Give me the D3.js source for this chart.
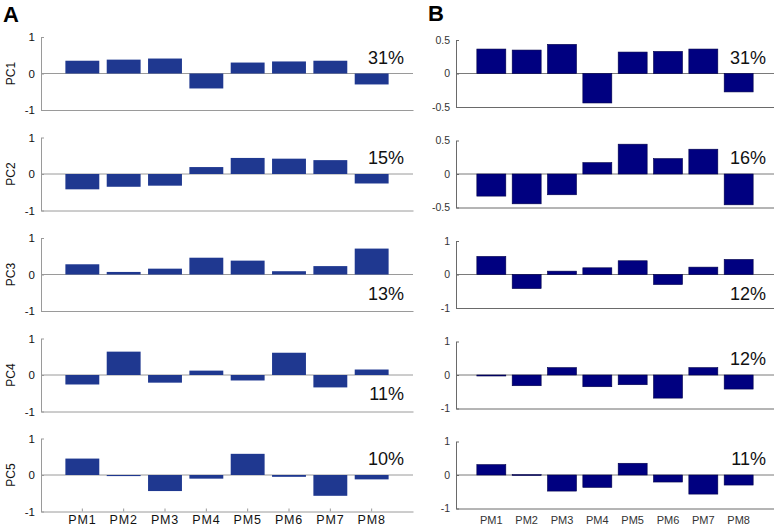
<!DOCTYPE html>
<html><head><meta charset="utf-8">
<script src="https://cdn.jsdelivr.net/npm/d3@7"></script>
<style>html,body{margin:0;padding:0;background:#fff;} svg{display:block;font-family:"Liberation Sans",Arial,Helvetica,sans-serif;}</style>
</head><body><svg id="chart" width="774" height="529"></svg>
<script>
// ---------- data ----------
const categories = ["PM1","PM2","PM3","PM4","PM5","PM6","PM7","PM8"];
const components = ["PC1","PC2","PC3","PC4","PC5"];

const pc1A = [0.35, 0.38, 0.41, -0.41, 0.30, 0.33, 0.35, -0.30];
const pc2A = [-0.42, -0.35, -0.32, 0.19, 0.44, 0.42, 0.38, -0.26];
const pc3A = [0.28, 0.07, 0.16, 0.46, 0.38, 0.09, 0.23, 0.71];
const pc4A = [-0.26, 0.64, -0.21, 0.12, -0.15, 0.61, -0.34, 0.15];
const pc5A = [0.45, -0.03, -0.44, -0.10, 0.58, -0.05, -0.57, -0.12];

const pc1B = [0.365, 0.35, 0.435, -0.44, 0.32, 0.33, 0.365, -0.275];
const pc2B = [-0.33, -0.445, -0.31, 0.17, 0.445, 0.23, 0.37, -0.46];
const pc3B = [0.54, -0.42, 0.10, 0.20, 0.41, -0.30, 0.22, 0.45];
const pc4B = [-0.03, -0.32, 0.22, -0.35, -0.29, -0.69, 0.22, -0.42];
const pc5B = [0.31, 0.01, -0.48, -0.37, 0.35, -0.21, -0.57, -0.30];

const varianceA = ["31%","15%","13%","11%","10%"];
const varianceB = ["31%","16%","12%","12%","11%"];

const yTicksA = [[-1,0,1],[-1,0,1],[-1,0,1],[-1,0,1],[-1,0,1]];
const yTicksB = [[-0.5,0,0.5],[-0.5,0,0.5],[-1,0,1],[-1,0,1],[-1,0,1]];

// ---------- layout ----------
const svg = d3.select("#chart");
const rowZero = [73.5, 174, 274.5, 375, 475];

const panels = [
  { letter:"A", letterX:3, letterY:22,
    series:[pc1A,pc2A,pc3A,pc4A,pc5A], labels:varianceA, ticks:yTicksA,
    left:41, right:413, half:36.5, barColor:"#1f3890", barStroke:"none",
    axisColor:"#9a9a9a", zeroColor:"#9a9a9a", tickColor:"#111",
    yFont:11.5, xFont:12.5, xLetterSpacing:0.8, xTickLen:3, xPad:4,
    pctX:404, pctPos:["up","up","down","down","up"], showPC:true },
  { letter:"B", letterX:428, letterY:21,
    series:[pc1B,pc2B,pc3B,pc4B,pc5B], labels:varianceB, ticks:yTicksB,
    left:456, right:774, half:33.5, barColor:"#000080", barStroke:"#00004a",
    axisColor:"#6a6a6a", zeroColor:"#7a7a7a", tickColor:"#333",
    yFont:10.5, xFont:11, xLetterSpacing:0, xTickLen:0, xPad:8,
    pctX:766, pctPos:["up","up","down","up","up"], showPC:false }
];

panels.forEach(p => {
  svg.append("text").attr("x", p.letterX).attr("y", p.letterY)
    .attr("font-size", 22).attr("font-weight", "bold").attr("fill", "#000").text(p.letter);

  const x = d3.scaleBand().domain(categories).range([p.left, p.right])
    .paddingInner(0.18).paddingOuter(0.59);

  p.series.forEach((vals, i) => {
    const ticks = p.ticks[i];
    const lim = d3.max(ticks);
    const z = rowZero[i];
    const y = d3.scaleLinear().domain([-lim, lim]).range([z + p.half, z - p.half]);
    const g = svg.append("g");

    // zero line
    g.append("line").attr("x1", p.left).attr("x2", p.right)
      .attr("y1", y(0)).attr("y2", y(0)).attr("stroke", p.zeroColor).attr("stroke-width", 1);

    // bars
    g.selectAll("rect.bar").data(vals).join("rect").attr("class","bar")
      .attr("x", (d, k) => x(categories[k]))
      .attr("width", x.bandwidth())
      .attr("y", d => y(Math.max(0, d)))
      .attr("height", d => Math.max(0.8, Math.abs(y(d) - y(0))))
      .attr("fill", p.barColor)
      .attr("stroke", p.barStroke).attr("stroke-width", 0.6);

    // y axis
    const ya = g.append("g").attr("transform", `translate(${p.left},0)`)
      .call(d3.axisLeft(y).tickValues(ticks).tickSize(-3).tickSizeOuter(0).tickPadding(6)
        .tickFormat(d => String(d)));
    ya.select(".domain").attr("stroke", p.axisColor);
    ya.selectAll(".tick line").attr("stroke", p.axisColor);
    ya.selectAll(".tick text").attr("font-size", p.yFont).attr("fill", p.tickColor)
      .attr("font-family", '"Liberation Sans",Arial,sans-serif');

    // x axis (bottom line)
    const last = i === p.series.length - 1;
    const xa = g.append("g").attr("transform", `translate(0,${y(-lim)})`)
      .call(d3.axisBottom(x).tickValues(last ? categories : [])
        .tickSize(last ? -p.xTickLen : 0).tickSizeOuter(0).tickPadding(p.xPad));
    xa.select(".domain").attr("stroke", p.axisColor);
    xa.selectAll(".tick line").attr("stroke", p.axisColor);
    xa.selectAll(".tick text").attr("font-size", p.xFont).attr("fill", p.tickColor)
      .attr("letter-spacing", p.xLetterSpacing)
      .attr("font-family", '"Liberation Sans",Arial,sans-serif');

    // variance label
    g.append("text").attr("x", p.pctX)
      .attr("y", p.pctPos[i] === "up" ? z - 10 : z + 25)
      .attr("text-anchor", "end").attr("font-size", 18).attr("fill", "#111")
      .text(p.labels[i]);

    // component label
    if (p.showPC) {
      g.append("text").attr("transform", `translate(15,${z}) rotate(-90)`)
        .attr("text-anchor", "middle").attr("font-size", 12).attr("fill", "#111")
        .text(components[i]);
    }
  });
});
</script>
</body></html>
